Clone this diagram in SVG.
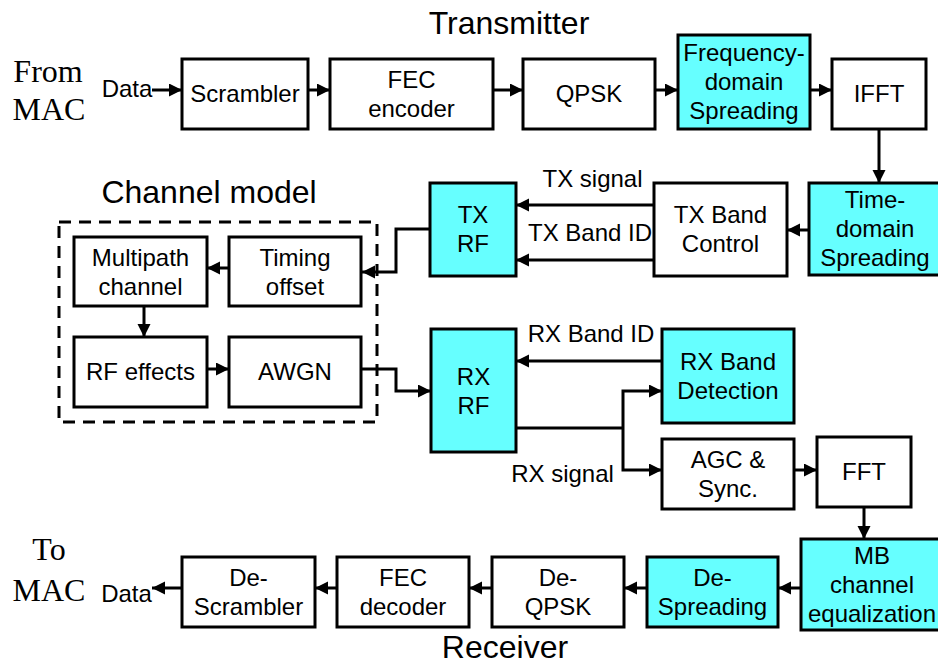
<svg xmlns="http://www.w3.org/2000/svg" width="938" height="666" viewBox="0 0 938 666">
  <defs>
    <marker id="arrow" markerUnits="userSpaceOnUse" markerWidth="14" markerHeight="14" refX="13" refY="6.5" orient="auto">
      <path d="M0,0 L13,6.5 L0,13 z" fill="#000"/>
    </marker>
    <style>
      .box { fill: #fff; stroke: #000; stroke-width: 3; }
      .hi { fill: #66ffff; stroke: #000; stroke-width: 3; }
      .lbl { font-family: "Liberation Sans", Arial, sans-serif; font-size: 24px; fill: #000; text-anchor: middle; }
      .title { font-family: "Liberation Sans", Arial, sans-serif; font-size: 32px; fill: #000; text-anchor: middle; }
      .mac { font-family: "Liberation Serif", "Times New Roman", serif; font-size: 32px; fill: #000; text-anchor: middle; }
      .wire { fill: none; stroke: #000; stroke-width: 3; }
      .arr { fill: none; stroke: #000; stroke-width: 3; marker-end: url(#arrow); }
    </style>
  </defs>
  <rect width="938" height="666" fill="#fff"/>

  <!-- section titles and MAC endpoints -->
  <text class="title" x="509" y="34">Transmitter</text>
  <text class="title" x="209" y="203">Channel model</text>
  <text class="title" x="505" y="658">Receiver</text>
  <text class="mac" x="48" y="82">From</text>
  <text class="mac" x="49" y="120">MAC</text>
  <text class="mac" x="49" y="560">To</text>
  <text class="mac" x="49" y="601">MAC</text>

  <!-- channel model frame -->
  <rect x="59" y="222" width="318" height="200" fill="none" stroke="#000" stroke-width="3" stroke-dasharray="12,8"/>

  <!-- transmitter chain -->
  <g id="scrambler">
    <rect class="box" x="182" y="59" width="126" height="70"/>
    <text class="lbl" x="245" y="102">Scrambler</text>
  </g>
  <g id="fec-encoder">
    <rect class="box" x="330" y="59" width="163" height="70"/>
    <text class="lbl" x="411.5" y="88">FEC</text>
    <text class="lbl" x="411.5" y="117">encoder</text>
  </g>
  <g id="qpsk">
    <rect class="box" x="523" y="59" width="132" height="70"/>
    <text class="lbl" x="589" y="102">QPSK</text>
  </g>
  <g id="freq-spreading">
    <rect class="hi" x="678" y="35" width="132" height="94"/>
    <text class="lbl" x="744" y="61">Frequency-</text>
    <text class="lbl" x="744" y="90">domain</text>
    <text class="lbl" x="744" y="119">Spreading</text>
  </g>
  <g id="ifft">
    <rect class="box" x="832" y="59" width="94" height="70"/>
    <text class="lbl" x="879" y="102">IFFT</text>
  </g>
  <g id="time-spreading">
    <rect class="hi" x="809" y="183" width="134" height="92"/>
    <text class="lbl" x="875" y="208">Time-</text>
    <text class="lbl" x="875" y="237">domain</text>
    <text class="lbl" x="875" y="266">Spreading</text>
  </g>
  <g id="tx-band-control">
    <rect class="box" x="654" y="183" width="133" height="93"/>
    <text class="lbl" x="720.5" y="223">TX Band</text>
    <text class="lbl" x="720.5" y="252">Control</text>
  </g>
  <g id="tx-rf">
    <rect class="hi" x="430" y="183" width="86" height="93"/>
    <text class="lbl" x="473" y="223">TX</text>
    <text class="lbl" x="473" y="252">RF</text>
  </g>

  <!-- channel model blocks -->
  <g id="multipath">
    <rect class="box" x="74" y="237" width="133" height="69"/>
    <text class="lbl" x="140.5" y="266">Multipath</text>
    <text class="lbl" x="140.5" y="295">channel</text>
  </g>
  <g id="timing-offset">
    <rect class="box" x="229" y="237" width="132" height="69"/>
    <text class="lbl" x="295" y="266">Timing</text>
    <text class="lbl" x="295" y="295">offset</text>
  </g>
  <g id="rf-effects">
    <rect class="box" x="74" y="337" width="133" height="70"/>
    <text class="lbl" x="140.5" y="380">RF effects</text>
  </g>
  <g id="awgn">
    <rect class="box" x="229" y="337" width="132" height="70"/>
    <text class="lbl" x="295" y="380">AWGN</text>
  </g>

  <!-- receiver chain -->
  <g id="rx-rf">
    <rect class="hi" x="431" y="329" width="85" height="123"/>
    <text class="lbl" x="473.5" y="385">RX</text>
    <text class="lbl" x="473.5" y="414">RF</text>
  </g>
  <g id="rx-band-detection">
    <rect class="hi" x="662" y="329" width="132" height="94"/>
    <text class="lbl" x="728" y="370">RX Band</text>
    <text class="lbl" x="728" y="399">Detection</text>
  </g>
  <g id="agc-sync">
    <rect class="box" x="662" y="439" width="132" height="70"/>
    <text class="lbl" x="728" y="468">AGC &amp;</text>
    <text class="lbl" x="728" y="497">Sync.</text>
  </g>
  <g id="fft">
    <rect class="box" x="817" y="437" width="94" height="70"/>
    <text class="lbl" x="864" y="480">FFT</text>
  </g>
  <g id="mb-equalization">
    <rect class="hi" x="801" y="539" width="142" height="91"/>
    <text class="lbl" x="872" y="564">MB</text>
    <text class="lbl" x="872" y="593">channel</text>
    <text class="lbl" x="872" y="622">equalization</text>
  </g>
  <g id="de-spreading">
    <rect class="hi" x="647" y="557" width="131" height="70"/>
    <text class="lbl" x="712.5" y="586">De-</text>
    <text class="lbl" x="712.5" y="615">Spreading</text>
  </g>
  <g id="de-qpsk">
    <rect class="box" x="492" y="557" width="132" height="70"/>
    <text class="lbl" x="558" y="586">De-</text>
    <text class="lbl" x="558" y="615">QPSK</text>
  </g>
  <g id="fec-decoder">
    <rect class="box" x="337" y="557" width="132" height="70"/>
    <text class="lbl" x="403" y="586">FEC</text>
    <text class="lbl" x="403" y="615">decoder</text>
  </g>
  <g id="de-scrambler">
    <rect class="box" x="182" y="557" width="133" height="70"/>
    <text class="lbl" x="248.5" y="586">De-</text>
    <text class="lbl" x="248.5" y="615">Scrambler</text>
  </g>

  <!-- connectors -->
  <g id="connectors">
    <line class="arr" x1="152" y1="90" x2="182" y2="90"/>
    <line class="arr" x1="308" y1="90" x2="330" y2="90"/>
    <line class="arr" x1="493" y1="90" x2="523" y2="90"/>
    <line class="arr" x1="655" y1="90" x2="678" y2="90"/>
    <line class="arr" x1="810" y1="90" x2="832" y2="90"/>
    <line class="arr" x1="879" y1="129" x2="879" y2="183"/>
    <line class="arr" x1="809" y1="230" x2="787" y2="230"/>
    <line class="arr" x1="654" y1="205" x2="516" y2="205"/>
    <line class="arr" x1="654" y1="260" x2="516" y2="260"/>
    <polyline class="arr" points="430,229 396,229 396,272 362,272"/>
    <line class="arr" x1="229" y1="268" x2="207" y2="268"/>
    <line class="arr" x1="144" y1="306" x2="144" y2="337"/>
    <line class="arr" x1="207" y1="369" x2="229" y2="369"/>
    <polyline class="arr" points="361,369 396,369 396,391 431,391"/>
    <line class="arr" x1="662" y1="361" x2="516" y2="361"/>
    <polyline class="wire" points="516,428 623,428"/>
    <polyline class="arr" points="623,428 623,391 662,391"/>
    <polyline class="arr" points="623,428 623,470 662,470"/>
    <line class="arr" x1="794" y1="470" x2="817" y2="470"/>
    <line class="arr" x1="864" y1="507" x2="864" y2="539"/>
    <line class="arr" x1="801" y1="588" x2="778" y2="588"/>
    <line class="arr" x1="647" y1="588" x2="624" y2="588"/>
    <line class="arr" x1="492" y1="588" x2="469" y2="588"/>
    <line class="arr" x1="337" y1="588" x2="315" y2="588"/>
    <line class="arr" x1="182" y1="588" x2="152" y2="588"/>
  </g>

  <!-- connector labels -->
  <g id="labels">
    <text class="lbl" x="127" y="97">Data</text>
    <text class="lbl" x="126.5" y="602">Data</text>
    <text class="lbl" x="592.5" y="187">TX signal</text>
    <text class="lbl" x="590" y="241">TX Band ID</text>
    <text class="lbl" x="591" y="342">RX Band ID</text>
    <text class="lbl" x="562.5" y="482">RX signal</text>
  </g>
</svg>
